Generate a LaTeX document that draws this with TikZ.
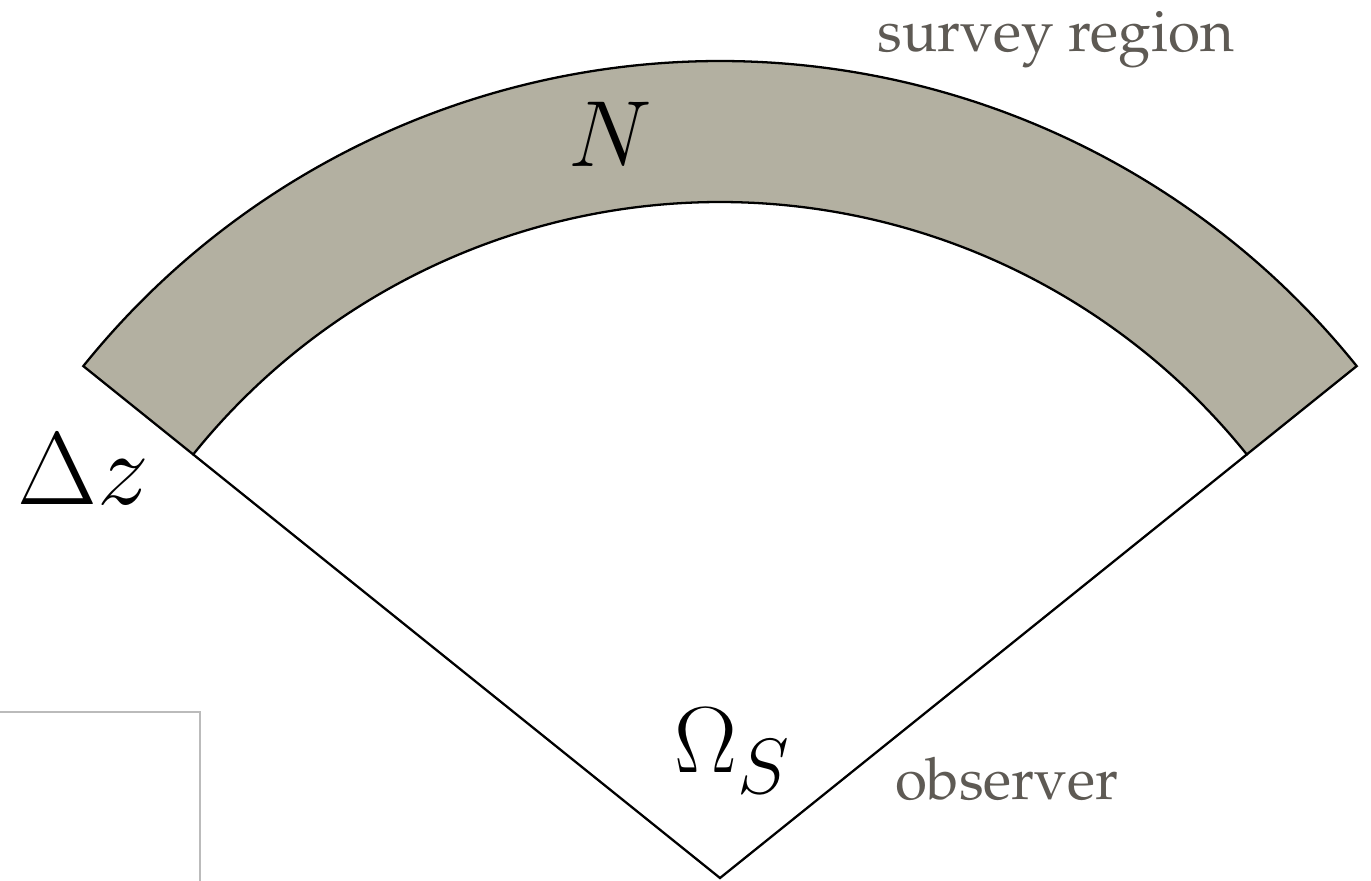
\documentclass[tikz,border=0pt]{standalone}
\usepackage[T1,TU]{fontenc}
\usepackage{tikz}
\newcommand\palat{\fontencoding{T1}\fontfamily{ppl}\selectfont}
\definecolor{bandfill}{HTML}{B3B0A1}
\definecolor{txtgray}{HTML}{5E5A54}
\definecolor{boxgray}{HTML}{BBBBBB}
\tikzset{
  band/.style={draw=black, fill=bandfill, line width=0.65pt, line join=miter},
  edge/.style={draw=black, line width=0.65pt},
  lbl/.style={font=\palat\fontsize{16.6}{18}\selectfont, text=txtgray, inner sep=0pt, anchor=base},
  mlbl/.style={font=\fontsize{24.88}{30}\selectfont, inner sep=0pt, anchor=base, scale=1.075},
}
\begin{document}
\begin{tikzpicture}
\useasboundingbox (0,0) rectangle (13.71,8.80);
% frame in the corner
\draw[boxgray, line width=0.7pt] (-0.3,-0.3) rectangle (2.00,1.68);
% observer and the survey band
\coordinate (obs) at (7.20,0.02);
\path (obs) ++(38.8:8.17) coordinate (ro);
\path (obs) ++(141.2:8.17) coordinate (lo);
\path (obs) ++(38.8:6.76) coordinate (ri);
\path (obs) ++(141.2:6.76) coordinate (li);
\draw[band] (ro) arc[start angle=38.8, end angle=141.2, radius=8.17] -- (li)
  arc[start angle=141.2, end angle=38.8, radius=6.76] -- cycle;
\draw[edge] (li) -- (obs) -- (ri);
% labels
\node[lbl] (survey) at (10.56,8.28) {survey region};
\node[lbl] (observer) at (10.07,0.81) {observer};
\node[mlbl] (num) at (6.10,7.13) {$N$};
\node[mlbl, scale=1.10] (dz) at (0.83,3.75) {$\Delta z$};
\node[mlbl] (omega) at (7.33,1.08) {$\Omega_S$};
\end{tikzpicture}
\end{document}
